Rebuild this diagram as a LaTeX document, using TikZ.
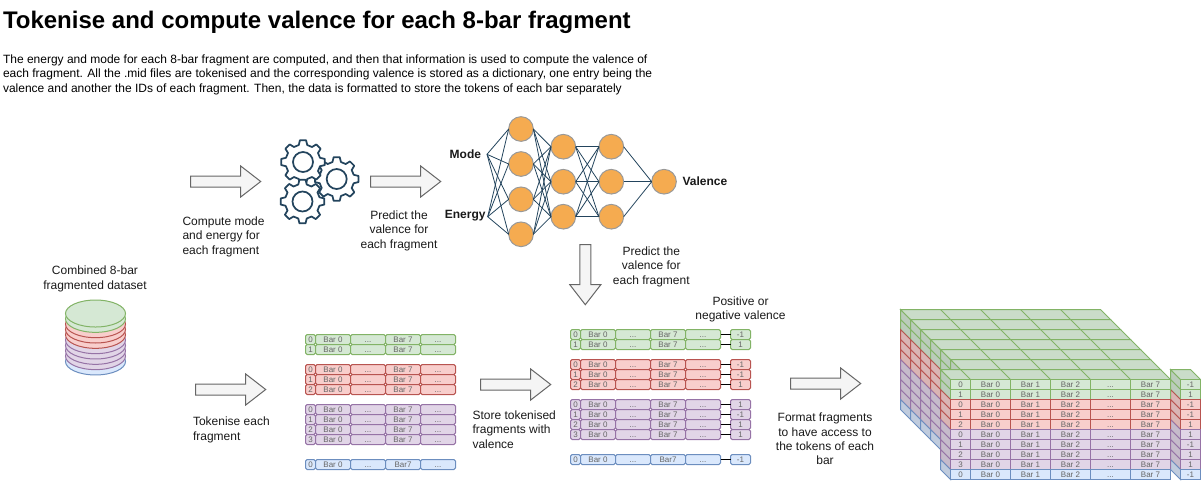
\documentclass[tikz,border=0pt]{standalone}
\usepackage{fontspec}
\setmainfont{Liberation Sans}
\definecolor{fgreen}{HTML}{D5E8D4}
\definecolor{fgreenLine}{HTML}{82B366}
\definecolor{fred}{HTML}{F8CECC}
\definecolor{fredLine}{HTML}{B85450}
\definecolor{fpurple}{HTML}{E1D5E7}
\definecolor{fpurpleLine}{HTML}{9673A6}
\definecolor{fblue}{HTML}{DAE8FC}
\definecolor{fblueLine}{HTML}{6C8EBF}
\definecolor{arrowFill}{HTML}{F5F5F5}
\definecolor{arrowLine}{HTML}{666666}
\definecolor{nnOrange}{HTML}{F5AB50}
\definecolor{nnLine}{HTML}{23445D}
% one row of a fragment table: name, x, y, index, style, last bar
\newcommand{\fragrow}[6]{
	\node[cell,#5,minimum width=7.5pt,name=#1a]at(#2,#3){#4};
	\node[cell,#5,minimum width=26.25pt,name=#1b,at=(#1a.north east)]{Bar 0};
	\node[cell,#5,minimum width=26.25pt,name=#1c,at=(#1b.north east)]{...};
	\node[cell,#5,minimum width=26.25pt,name=#1d,at=(#1c.north east)]{#6};
	\node[cell,#5,minimum width=26.25pt,name=#1e,at=(#1d.north east)]{...};
}
% one layer of the stack: x, y, width of the top
\newcommand{\stacklayer}[3]{
	\foreach \r/\sty in {0/greenside,1/greenside,2/redside,3/redside,4/redside,5/purpleside,6/purpleside,7/purpleside,8/purpleside,9/blueside}
		\draw[\sty] (#1,#2+10*\r) -- ++(10,10) -- ++(0,10) -- ++(-10,-10) -- cycle;
	\draw[topface] (#1,#2) -- ++(#3,0) -- ++(10,10) -- ++(-#3,0) -- cycle;
}
\begin{document}
\begin{tikzpicture}
	[x=0.75pt,y=-0.75pt,line width=0.75pt,
	caption/.style={inner sep=0,font=\fontsize{9}{10.8}\selectfont,align=center,text=black!90},
	captionleft/.style={caption,align=left},
	cell/.style={rectangle,inner sep=0,outer sep=0,minimum height=7.5pt,anchor=north west,rounded corners=1.2pt,
		text height=4.2pt,text depth=0pt,font=\fontsize{6}{7}\selectfont,text=black!60},
	greencell/.style={draw=fgreenLine,fill=fgreen},
	redcell/.style={draw=fredLine,fill=fred},
	purplecell/.style={draw=fpurpleLine,fill=fpurple},
	bluecell/.style={draw=fblueLine,fill=fblue},
	greenside/.style={draw=fgreenLine,fill=fgreen!88!black},
	redside/.style={draw=fredLine,fill=fred!88!black},
	purpleside/.style={draw=fpurpleLine,fill=fpurple!88!black},
	blueside/.style={draw=fblueLine,fill=fblue!88!black},
	topface/.style={draw=fgreenLine,fill=fgreen!95!black},
	neuron/.style={circle,draw=black!40,fill=nnOrange,minimum size=18.5pt,inner sep=0,outer sep=0},
	synapse/.style={draw=nnLine,line width=0.6pt},
	flatarrow/.pic={\draw[draw=arrowLine,fill=arrowFill] (0,-5.5) -- (#1-20,-5.5) -- (#1-20,-15.5) -- (#1,0)
		-- (#1-20,15.5) -- (#1-20,5.5) -- (0,5.5) -- cycle;},
	gearwheel/.pic={\draw[draw=nnLine,fill=white,line width=1.3pt,line join=round] (-14:17.5)
		\foreach \a in {0,45,...,315} {-- (\a-14:17.5) -- (\a-8:22) -- (\a+8:22) -- (\a+14:17.5) -- (\a+31:17.5)} -- cycle;
		\draw[draw=nnLine,line width=1.3pt] (0,0) circle [radius=10];}]
	\useasboundingbox (0,0) rectangle (1201,480);
	% title and text
	\node[inner sep=0,anchor=west,name=title]at(2.5,22){\fontsize{18}{21}\selectfont\bfseries Tokenise and compute valence for each 8-bar fragment};
	\node[captionleft,anchor=west,name=intro,text=black]at(2.5,74.5){The energy and mode for each 8-bar fragment are computed, and then that information is used to compute the valence of\\each fragment. All the .mid files are tokenised and the corresponding valence is stored as a dictionary, one entry being the\\valence and another the IDs of each fragment. Then, the data is formatted to store the tokens of each bar separately};
	% dataset
	\node[caption,name=datasettext]at(95,279){Combined 8-bar\\fragmented dataset};
	\foreach \k/\sty in {9/bluecell,8/purplecell,7/purplecell,6/purplecell,5/purplecell,4/redcell,3/redcell,2/redcell,1/greencell,0/greencell}
		\draw[\sty] (95.5,313.5+5.33*\k) ellipse [x radius=30,y radius=13.5];
	% arrows
	\pic at (190.7,181.5) {flatarrow=70};
	\pic at (370.7,181.5) {flatarrow=70};
	\pic[rotate=-90] at (585.3,244.7) {flatarrow=60};
	\pic at (195.7,389.5) {flatarrow=70};
	\pic at (480.7,384.5) {flatarrow=70};
	\pic at (790.7,383.5) {flatarrow=70};
	\node[captionleft,anchor=west,name=computetext]at(182,236.5){Compute mode\\and energy for\\each fragment};
	\node[caption,name=predicttext]at(399,230.5){Predict the\\valence for\\each fragment};
	\node[caption,name=predicttextb]at(651.3,266.5){Predict the\\valence for\\each fragment};
	\node[caption,name=signtext]at(740.5,309.5){Positive or\\negative valence};
	\node[captionleft,anchor=west,name=tokenisetext]at(192.5,430){Tokenise each\\fragment};
	\node[captionleft,anchor=west,name=storetext]at(472,429.5){Store tokenised\\fragments with\\valence};
	\node[caption,name=formattext]at(825,439){Format fragments\\to have access to\\the tokens of each\\bar};
	% gears
	\pic at (336.7,179) {gearwheel};
	\pic at (303,162) {gearwheel};
	\pic at (302.5,201.5) {gearwheel};
	% network
	\foreach \i/\y in {1/129,2/164,3/199.3,4/234.3}
		\node[neuron,name=a\i]at(521,\y){};
	\foreach \i/\y in {1/146.7,2/181.7,3/216.7}{
		\node[neuron,name=b\i]at(563.3,\y){};
		\node[neuron,name=c\i]at(611.3,\y){};
	}
	\node[neuron,name=out]at(664,181.7){};
	\node[caption,font=\fontsize{9}{10.8}\selectfont\bfseries,anchor=east,name=mode]at(481.5,154){Mode};
	\node[caption,font=\fontsize{9}{10.8}\selectfont\bfseries,anchor=east,name=energy]at(486,215.5){Energy};
	\node[caption,font=\fontsize{9}{10.8}\selectfont\bfseries,anchor=west,name=valence]at(682,181.7){Valence};
	\coordinate (modein) at (487,154.3);
	\coordinate (energyin) at (487.7,216.7);
	\foreach \i in {1,2,3,4}{
		\draw[synapse] (modein) -- (a\i.west);
		\draw[synapse] (energyin) -- (a\i.west);
		\foreach \j in {1,2,3}
			\draw[synapse] (a\i.east) -- (b\j.west);
	}
	\foreach \i in {1,2,3}{
		\draw[synapse] (c\i.east) -- (out.west);
		\foreach \j in {1,2,3}
			\draw[synapse] (b\i.east) -- (c\j.west);
	}
	% tokenised fragments
	\foreach \y/\n/\sty/\b in {334/0/greencell/Bar 7,344/1/greencell/Bar 7,364/0/redcell/Bar 7,374/1/redcell/Bar 7,384/2/redcell/Bar 7,404/0/purplecell/Bar 7,414/1/purplecell/Bar 7,424/2/purplecell/Bar 7,434/3/purplecell/Bar 7,459/0/bluecell/Bar7}
		\fragrow{t\y}{305.5}{\y+0.5}{\n}{\sty}{\b};
	% fragments with valence
	\foreach \y/\n/\sty/\b/\v in {329/0/greencell/Bar 7/-1,339/1/greencell/Bar 7/1,359/0/redcell/Bar 7/-1,369/1/redcell/Bar 7/-1,379/2/redcell/Bar 7/1,399/0/purplecell/Bar 7/1,409/1/purplecell/Bar 7/-1,419/2/purplecell/Bar 7/1,429/3/purplecell/Bar 7/1,454/0/bluecell/Bar7/-1}{
		\fragrow{v\y}{570.5}{\y+0.5}{\n}{\sty}{\b};
		\node[cell,\sty,minimum width=15pt,name=v\y f]at(730.5,\y+0.5){\v};
		\draw (v\y e.east) -- (v\y f.west);
	}
	% stack of layers
	\foreach \i in {0,1,2,3,4,5}{
		\stacklayer{900.5+10*\i}{309.5+10*\i}{200}
		\foreach \c in {40,80,120,160}
			\draw[draw=fgreenLine] (900.5+10*\i+\c,309.5+10*\i) -- ++(10,10);
	}
	\stacklayer{940.5}{369.5}{220}
	\foreach \c in {20,60,100,140,180}
		\draw[draw=fgreenLine] (940.5+\c,369.5) -- ++(10,10);
	\stacklayer{1170.5}{369.5}{20}
	\foreach \y/\n/\sty/\v in {379/0/greencell/-1,389/1/greencell/1,399/0/redcell/-1,409/1/redcell/-1,419/2/redcell/1,429/0/purplecell/1,439/1/purplecell/-1,449/2/purplecell/1,459/3/purplecell/1,469/0/bluecell/-1}{
		\node[cell,\sty,rounded corners=0,minimum width=15pt,name=s\y a]at(950.5,\y+0.5){\n};
		\node[cell,\sty,rounded corners=0,minimum width=30pt,name=s\y b,at=(s\y a.north east)]{Bar 0};
		\node[cell,\sty,rounded corners=0,minimum width=30pt,name=s\y c,at=(s\y b.north east)]{Bar 1};
		\node[cell,\sty,rounded corners=0,minimum width=30pt,name=s\y d,at=(s\y c.north east)]{Bar 2};
		\node[cell,\sty,rounded corners=0,minimum width=30pt,name=s\y e,at=(s\y d.north east)]{...};
		\node[cell,\sty,rounded corners=0,minimum width=30pt,name=s\y f,at=(s\y e.north east)]{Bar 7};
		\node[cell,\sty,rounded corners=0,minimum width=15pt,name=s\y g]at(1180.5,\y+0.5){\v};
	}
\end{tikzpicture}
\end{document}
